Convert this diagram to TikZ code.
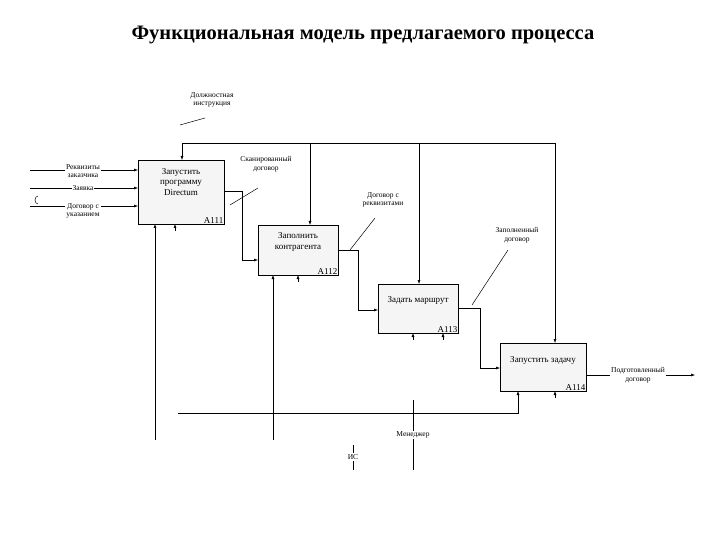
\documentclass[tikz,border=0pt]{standalone}
\usepackage{fontspec}
\setmainfont{Liberation Serif}
\usetikzlibrary{arrows.meta}
\begin{document}
\begin{tikzpicture}[x=1pt,y=-1pt,
  act/.style={draw,fill=gray!8,anchor=north west,inner sep=0pt},
  lbl/.style={font=\fontsize{7.5}{8.5}\selectfont,align=center,inner sep=1pt},
  big/.style={font=\fontsize{9}{10.5}\selectfont,align=center,inner sep=1pt},
  flow/.style={-{Latex[length=4pt,width=3pt]}},
  every path/.style={line width=0.5pt}]
\useasboundingbox (0,0) rectangle (720,540);
\node[font=\bfseries\fontsize{20.5}{24}\selectfont] (title) at (363,35) {Функциональная модель предлагаемого процесса};

% activity boxes
\node[act,minimum width=86pt,minimum height=64pt] (a111) at (138,160) {};
\node[act,minimum width=80pt,minimum height=50pt] (a112) at (258,225) {};
\node[act,minimum width=80pt,minimum height=49pt] (a113) at (378,284) {};
\node[act,minimum width=86pt,minimum height=48pt] (a114) at (500,343) {};
\node[big] at (181,182) {Запустить\\программу\\Directum};
\node[big] at (298,242) {Заполнить\\контрагента};
\node[big] at (418,300) {Задать маршрут};
\node[big] at (543,360) {Запустить задачу};
\node[big,anchor=south east] at (a111.south east) {A111};
\node[big,anchor=south east] at (a112.south east) {A112};
\node[big,anchor=south east] at (a113.south east) {A113};
\node[big,anchor=south east] at (a114.south east) {A114};

% controls
\coordinate (ctl) at (555,143);
\draw (182,143) -- (ctl);
\draw[flow] (182,143) -- (182,160);
\draw[flow] (310,143) -- (310,225);
\draw[flow] (419,143) -- (419,284);
\draw[flow] (ctl) -- (555,343);
\node[lbl] (instr) at (212,100) {Должностная\\инструкция};
\draw (180,125) -- (205,118);

% inputs
\foreach \y in {170,188,206} \draw[flow] (30,\y) -- (138,\y);
\node[lbl,fill=white] at (83,171) {Реквизиты\\заказчика};
\node[lbl,fill=white] at (83,188) {Заявка};
\node[lbl,fill=white] at (83,211) {Договор с\\указанием};
\draw (38,204) arc (90:270:3 and 4);

% outputs
\draw[flow] (224,191) -- (242,191) -- (242,260) -- (258,260);
\node[lbl] (scan) at (266,164) {Сканированный\\договор};
\draw (230,205) -- (258,188);
\draw[flow] (338,250) -- (358,250) -- (358,310) -- (378,310);
\node[lbl] (rekv) at (383,200) {Договор с\\реквизитами};
\draw (350,250) -- (375,218);
\draw[flow] (458,308) -- (480,308) -- (480,368) -- (500,368);
\node[lbl] (zap) at (517,235) {Заполненный\\договор};
\draw (472,305) -- (508,250);
\draw[flow] (586,375) -- (695,375);
\node[lbl,fill=white] (podg) at (638,375) {Подготовленный\\договор};

% mechanisms
\draw[flow] (178,413) -- (518,413) -- (518,391);
\draw[flow] (155,440) -- (155,224);
\draw[flow] (273,440) -- (273,275);
\draw (413,400) -- (413,470);
\node[lbl,fill=white] (men) at (413,435) {Менеджер};
\draw (353,445) -- (353,470);
\node[lbl,fill=white] (is) at (353,457) {ИС};

% stubs
\foreach \x/\y in {175/224,298/275,413/333,443/333,555/391}
  \draw[flow] (\x,\y+7) -- (\x,\y);
\end{tikzpicture}
\end{document}
